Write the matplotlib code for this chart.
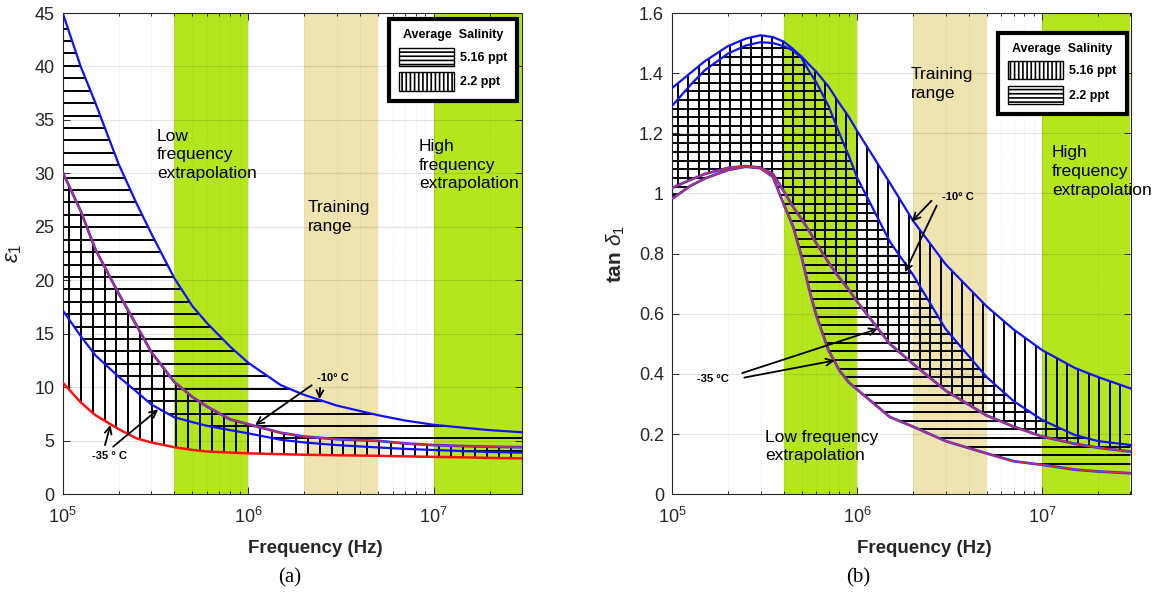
import numpy as np
from matplotlib import pyplot as plt
from matplotlib.patches import Patch
from matplotlib.ticker import FormatStrFormatter, LogLocator, NullFormatter

plt.rcParams['font.family'] = ['Liberation Sans', 'DejaVu Sans']
plt.rcParams['mathtext.fontset'] = 'custom'
plt.rcParams['mathtext.rm'] = 'Liberation Sans'
plt.rcParams['mathtext.it'] = 'Liberation Sans:italic'
plt.rcParams['mathtext.bf'] = 'Liberation Sans:bold'
plt.rcParams['hatch.linewidth'] = 1.2

# (a) real permittivity
freq_a = [1e5, 1.25e5, 1.5e5, 2e5, 2.5e5, 3e5, 4e5, 5e5, 6e5, 8e5, 1e6,
          1.5e6, 2e6, 3e6, 5e6, 7e6, 1e7, 1.5e7, 2e7, 3e7]
eps_516_m10 = [45.0, 40.0, 36.6, 30.9, 27.2, 24.4, 20.2, 17.6, 16.0, 13.8, 12.3,
               10.2, 9.3, 8.3, 7.4, 6.9, 6.5, 6.2, 6.0, 5.8]
eps_22_m10 = [30.1, 26.5, 22.9, 18.8, 15.8, 13.3, 10.5, 9.1, 8.2, 7.0, 6.55,
              5.75, 5.4, 5.15, 5.0, 4.75, 4.6, 4.5, 4.45, 4.4]
eps_516_m35 = [17.2, 14.8, 13.0, 11.0, 9.6, 8.4, 7.2, 6.75, 6.4, 6.0, 5.7,
               5.1, 4.85, 4.6, 4.38, 4.25, 4.14, 4.03, 3.96, 3.89]
eps_22_m35 = [10.45, 8.6, 7.4, 6.1, 5.23, 4.85, 4.4, 4.15, 4.0, 3.9, 3.83,
              3.75, 3.7, 3.65, 3.6, 3.55, 3.5, 3.45, 3.4, 3.36]

# (b) loss tangent
freq_b = [1e5, 1.25e5, 1.5e5, 2e5, 2.5e5, 3e5, 3.5e5, 4e5, 4.5e5, 5e5, 5.5e5, 6e5,
          7e5, 8e5, 9e5, 1e6, 1.5e6, 2e6, 3e6, 5e6, 7e6, 1e7, 1.5e7, 2e7, 3e7]
tan_516_m10 = [1.351, 1.40, 1.44, 1.49, 1.515, 1.526, 1.52, 1.505, 1.48, 1.455, 1.428, 1.405,
               1.355, 1.30, 1.255, 1.207, 1.035, 0.91, 0.765, 0.625, 0.548, 0.479, 0.42, 0.39, 0.352]
tan_22_m10 = [1.292, 1.36, 1.41, 1.465, 1.492, 1.503, 1.50, 1.49, 1.475, 1.45, 1.406, 1.37,
              1.29, 1.20, 1.125, 1.052, 0.84, 0.73, 0.55, 0.39, 0.31, 0.247, 0.197, 0.177, 0.164]
tan_516_m35 = [1.019, 1.045, 1.065, 1.085, 1.091, 1.086, 1.065, 1.008, 0.955, 0.915, 0.875, 0.835,
               0.77, 0.72, 0.68, 0.64, 0.50, 0.434, 0.345, 0.262, 0.225, 0.192, 0.168, 0.155, 0.142]
tan_22_m35 = [0.983, 1.025, 1.05, 1.078, 1.089, 1.084, 1.055, 0.965, 0.89, 0.79, 0.68, 0.595,
              0.478, 0.412, 0.372, 0.348, 0.257, 0.225, 0.177, 0.136, 0.11, 0.098, 0.082, 0.076, 0.070]

low_band = (4e5, 1e6)
train_band = (2e6, 5e6)
high_band = (1e7, 3e7)

GREEN = '#b5e61d'
TAN = '#efe4b0'
INK = '#262626'


def hatch(ax, f, lo, hi, step, vertical, lw=1.4):
    band = ax.fill_between(f, lo, hi, facecolor='none', edgecolor='none', zorder=2)
    path = band.get_paths()[0]
    for p in np.arange(step / 2, 1, step):
        if vertical:
            xs, ys = [p, p], [0, 1]
        else:
            xs, ys = [0, 1], [p, p]
        ln, = ax.plot(xs, ys, transform=ax.transAxes, color='k', lw=lw, zorder=2)
        ln.set_clip_path(path, ax.transData)


def mixed_line(ax, f, y):
    # red line drawn over blue one -> purple-ish look of the original
    ax.plot(f, y, color='#3030ff', lw=2.0, zorder=3)
    ax.plot(f, y, color='#e03030', lw=0.9, zorder=3.1)


def style_axes(ax, ylim, yticks):
    ax.set_xscale('log')
    ax.set_xlim(1e5, 3e7)
    ax.set_ylim(*ylim)
    ax.set_yticks(yticks)
    ax.yaxis.set_major_formatter(FormatStrFormatter('%g'))
    ax.xaxis.set_minor_locator(LogLocator(base=10, subs=np.arange(2, 10)))
    ax.xaxis.set_minor_formatter(NullFormatter())
    ax.tick_params(which='both', direction='in', top=True, right=True,
                   colors=INK, labelsize=13, width=0.7)
    ax.tick_params(which='major', length=5)
    ax.tick_params(axis='x', which='major', pad=9)
    ax.tick_params(axis='y', which='major', pad=6)
    ax.tick_params(which='minor', length=2.5)
    ax.grid(True, which='major', color=INK, alpha=0.12, lw=0.8)
    ax.grid(True, which='minor', axis='x', color=INK, alpha=0.1, lw=0.7, ls=':')
    for s in ax.spines.values():
        s.set_color(INK)
        s.set_linewidth(0.8)
    for b, c in [(low_band, GREEN), (train_band, TAN), (high_band, GREEN)]:
        ax.axvspan(b[0], b[1], color=c, lw=0, zorder=1)
    ax.set_xlabel('Frequency (Hz)', fontsize=13.5, fontweight='bold', color=INK)
    ax.xaxis.set_label_coords(0.55, -0.095)


def arrow(ax, tail, tip):
    ax.annotate('', xy=tip, xytext=tail,
                arrowprops=dict(arrowstyle='->,head_length=0.5,head_width=0.25',
                                color='k', lw=1.3, shrinkA=0, shrinkB=0), zorder=6)


def salinity_legend(ax, first_hatch, second_hatch, anchor):
    handles = [Patch(facecolor='white', edgecolor='k', hatch=first_hatch, label='5.16 ppt'),
               Patch(facecolor='white', edgecolor='k', hatch=second_hatch, label='2.2 ppt')]
    leg = ax.legend(handles=handles, title='Average  Salinity', loc='upper right',
                    bbox_to_anchor=anchor, fancybox=False, framealpha=1,
                    edgecolor='k', prop={'weight': 'bold', 'size': 9},
                    title_fontproperties={'weight': 'bold', 'size': 9},
                    handlelength=4.4, handleheight=1.9, borderpad=0.8,
                    labelspacing=0.5, handletextpad=0.5)
    leg.get_frame().set_linewidth(3)
    leg.set_zorder(10)
    return leg


fig = plt.figure(figsize=(11.69, 5.93), dpi=100)
ax1 = fig.add_axes([62.7 / 1169, 98.7 / 593, 459.5 / 1169, 481.3 / 593])
ax2 = fig.add_axes([672.3 / 1169, 98.7 / 593, 458.2 / 1169, 481.3 / 593])

# ---- (a)
style_axes(ax1, (0, 45), np.arange(0, 46, 5))
hatch(ax1, freq_a, eps_516_m35, eps_516_m10, 0.0258, vertical=False)
hatch(ax1, freq_a, eps_22_m35, eps_22_m10, 0.026, vertical=True)
ax1.plot(freq_a, eps_516_m10, color='#1010ff', lw=1.6, zorder=3)
ax1.plot(freq_a, eps_516_m35, color='#1010ff', lw=1.6, zorder=3)
mixed_line(ax1, freq_a, eps_22_m10)
ax1.plot(freq_a, eps_22_m35, color='#ff1010', lw=1.8, zorder=3)
ax1.set_ylabel(r'$\epsilon_1$', fontsize=16, color=INK)
ax1.yaxis.set_label_coords(-0.085, 0.5)

ax1.text(3.22e5, 34.2, 'Low\nfrequency\nextrapolation', fontsize=12.5, va='top', linespacing=1.3, zorder=7)
ax1.text(2.09e6, 27.5, 'Training\nrange', fontsize=12.5, va='top', linespacing=1.3, zorder=7)
ax1.text(8.34e6, 33.2, 'High\nfrequency\nextrapolation', fontsize=12.5, va='top', linespacing=1.3, zorder=7)

ax1.text(2.36e6, 10.9, '-10° C', fontsize=8, fontweight='bold', va='center', zorder=7)
arrow(ax1, (2.44e6, 9.95), (2.42e6, 8.9))
arrow(ax1, (2.2e6, 10.2), (1.09e6, 6.48))
ax1.text(1.43e5, 3.58, '-35 ° C', fontsize=8, fontweight='bold', va='center', zorder=7)
arrow(ax1, (1.69e5, 4.6), (1.81e5, 6.48))
arrow(ax1, (1.87e5, 4.45), (3.27e5, 7.94))

salinity_legend(ax1, '----', '||||', (1.003, 1.0))

# ---- (b)
style_axes(ax2, (0, 1.6), np.arange(0, 1.61, 0.2))
hatch(ax2, freq_b, tan_516_m35, tan_516_m10, 0.023, vertical=True)
hatch(ax2, freq_b, tan_22_m35, tan_22_m10, 0.018, vertical=False)
ax2.plot(freq_b, tan_516_m10, color='#1010ff', lw=1.6, zorder=3)
ax2.plot(freq_b, tan_22_m10, color='#1010ff', lw=1.6, zorder=3)
mixed_line(ax2, freq_b, tan_516_m35)
mixed_line(ax2, freq_b, tan_22_m35)
ax2.set_ylabel(r'$\mathbf{tan}\ \delta_1$', fontsize=15, color=INK)
ax2.yaxis.set_label_coords(-0.098, 0.5)

ax2.text(1.95e6, 1.42, 'Training\nrange', fontsize=12.5, va='top', linespacing=1.3, zorder=7)
ax2.text(1.13e7, 1.16, 'High\nfrequency\nextrapolation', fontsize=12.5, va='top', linespacing=1.3, zorder=7)
ax2.text(3.17e5, 0.215, 'Low frequency\nextrapolation', fontsize=12.5, va='top', linespacing=1.3, zorder=7)

ax2.text(2.86e6, 0.987, '-10° C', fontsize=8, fontweight='bold', va='center', zorder=7)
arrow(ax2, (2.52e6, 0.976), (1.97e6, 0.907))
arrow(ax2, (2.69e6, 0.96), (1.81e6, 0.738))
ax2.text(1.36e5, 0.382, '-35 °C', fontsize=8, fontweight='bold', va='center', zorder=7)
arrow(ax2, (2.39e5, 0.403), (1.29e6, 0.55))
arrow(ax2, (2.45e5, 0.388), (7.55e5, 0.445))

salinity_legend(ax2, '||||', '----', (1.005, 0.972))

fig.text(290 / 1169, 1 - 578 / 593, '(a)', fontsize=15, family='Liberation Serif', ha='center', va='center')
fig.text(858 / 1169, 1 - 578 / 593, '(b)', fontsize=15, family='Liberation Serif', ha='center', va='center')

fig.savefig('out.png', dpi=100)
